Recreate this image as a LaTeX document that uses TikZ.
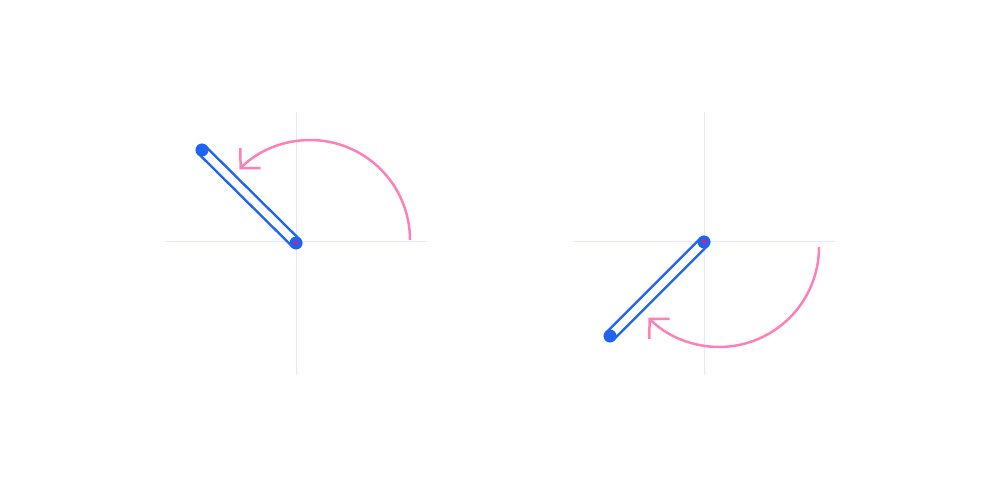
\documentclass[tikz,border=0pt]{standalone}
\usetikzlibrary{arrows.meta}
\definecolor{rodblue}{HTML}{1F63F2}
\definecolor{turnpink}{HTML}{FF80B8}
\definecolor{axisgray}{HTML}{E4E9F5}
\definecolor{pinred}{HTML}{E8186F}
\begin{document}
\begin{tikzpicture}
[x=0.02cm,y=0.02cm,
 axis/.style={draw=axisgray, line width=0.02cm},
 rod/.style={draw=rodblue, line width=0.05cm, double=white, double distance=0.15cm, line cap=round},
 joint/.style={circle, fill=rodblue, inner sep=0, minimum size=0.26cm},
 pin/.style={circle, fill=pinred, inner sep=0, minimum size=0.08cm},
 turn/.style={draw=turnpink, line width=0.05cm, -{Straight Barb[length=0.28cm,width=0.57cm]}}]
\useasboundingbox (0,0) rectangle (1000,487);
\def \radius {2cm}
\def \half {131} % half length of the axes
\foreach \cx in {296,704}
{
  \draw[axis] (\cx-\half,245) -- (\cx+\half,245);
  \draw[axis] (\cx,112) -- (\cx,375);
}
% left: arm turned up
\coordinate (p1) at (296,244);
\coordinate (t1) at (202,337);
\coordinate (s1) at (410,247);
\draw[rod] (p1) -- (t1);
\node[joint] (tip1) at (t1) {};
\node[joint] (pivot1) at (p1) {};
\node[pin] (pin1) at (p1) {};
\draw[turn] (s1) arc[start angle=0, end angle=135, radius=\radius];
% right: arm turned down
\coordinate (p2) at (704,245);
\coordinate (t2) at (610,151);
\coordinate (s2) at (819,240);
\draw[rod] (p2) -- (t2);
\node[joint] (tip2) at (t2) {};
\node[joint] (pivot2) at (p2) {};
\node[pin] (pin2) at (p2) {};
\draw[turn] (s2) arc[start angle=0, end angle=-135, radius=\radius];
\end{tikzpicture}
\end{document}
